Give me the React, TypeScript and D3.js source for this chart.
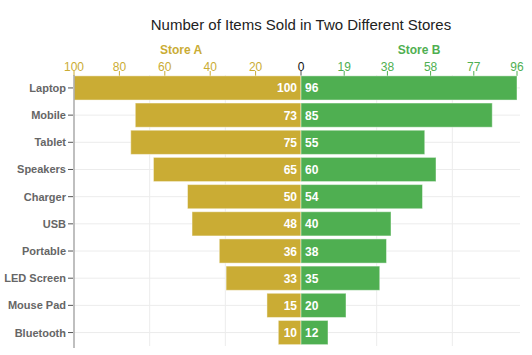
import React from "react";
import * as d3 from "d3";

const categories = ["Laptop", "Mobile", "Tablet", "Speakers", "Charger", "USB", "Portable", "LED Screen", "Mouse Pad", "Bluetooth"];
const storeA = [100, 73, 75, 65, 50, 48, 36, 33, 15, 10];
const storeB = [96, 85, 55, 60, 54, 40, 38, 35, 20, 12];
const seriesNames = ["Store A", "Store B"];
const title = "Number of Items Sold in Two Different Stores";

const W = 532, H = 355;
const GOLD = "#CAAC34";
const GREEN = "#4FAF51";
const FONT = "'Liberation Sans', Arial, sans-serif";

export default function App() {
  const x0 = 301;
  const maxA = d3.max(storeA)!;
  const maxB = d3.max(storeB)!;
  const xA = d3.scaleLinear().domain([0, maxA]).range([x0, 74]);
  const xB = d3.scaleLinear().domain([0, maxB]).range([x0, 517]);
  const y = d3.scaleBand<string>().domain(categories).range([74.5, 346]).paddingInner(0.11).paddingOuter(0.05);
  const ticksA = d3.range(0, 6).map((i) => (maxA * i) / 5);
  const ticksB = d3.range(0, 6).map((i) => (maxB * i) / 5);
  const gridX = [1, 2, 4, 5].map((i) => 74 + (i * (x0 - 74)) / 3);
  const tickY = 71;

  return (
    <svg width={W} height={H} style={{ position: "absolute", left: 0, top: 0 }} fontFamily={FONT}>
      <rect width={W} height={H} fill="#fff" />
      <text x={301} y={30} textAnchor="middle" fontSize={15} fill="#222">{title}</text>
      {/* grid */}
      {gridX.map((gx, i) => (
        <line key={"gx" + i} x1={gx} x2={gx} y1={75} y2={346} stroke="#ececec" />
      ))}
      {categories.map((c) => (
        <line key={"gy" + c} x1={74} x2={520} y1={y(c)! + y.bandwidth() / 2} y2={y(c)! + y.bandwidth() / 2} stroke="#ececec" />
      ))}
      {/* series titles */}
      <text x={181} y={54} textAnchor="middle" fontSize={12} fontWeight="bold" fill={GOLD}>{seriesNames[0]}</text>
      <text x={419} y={54} textAnchor="middle" fontSize={12} fontWeight="bold" fill={GREEN}>{seriesNames[1]}</text>
      {/* top axis ticks */}
      {ticksA.map((t, i) => (
        <g key={"ta" + i}>
          <line x1={xA(t)} x2={xA(t)} y1={tickY} y2={76} stroke={t === 0 ? "#888" : GOLD} />
          {t !== 0 && (
            <text x={xA(t)} y={71} textAnchor="middle" fontSize={12} fill={GOLD}>{d3.format(".0f")(t)}</text>
          )}
        </g>
      ))}
      {ticksB.map((t, i) => (
        <g key={"tb" + i}>
          <line x1={xB(t)} x2={xB(t)} y1={tickY} y2={76} stroke={t === 0 ? "#888" : GREEN} />
          {t !== 0 && (
            <text x={xB(t)} y={71} textAnchor="middle" fontSize={12} fill={GREEN}>{d3.format(".0f")(t)}</text>
          )}
        </g>
      ))}
      <text x={x0} y={71} textAnchor="middle" fontSize={12} fill="#111">0</text>
      {/* bars */}
      {categories.map((c, i) => (
        <g key={"b" + c}>
          <rect x={xA(storeA[i])} y={y(c)!} width={x0 - xA(storeA[i])} height={y.bandwidth()} fill={GOLD} stroke="#fff" strokeOpacity={0.45} />
          <rect x={x0} y={y(c)!} width={xB(storeB[i]) - x0} height={y.bandwidth()} fill={GREEN} stroke="#fff" strokeOpacity={0.45} />
          <text x={x0 - 4} y={y(c)! + y.bandwidth() / 2 + 4.5} textAnchor="end" fontSize={12} fontWeight="bold" fill="#fff">{storeA[i]}</text>
          <text x={x0 + 4} y={y(c)! + y.bandwidth() / 2 + 4.5} textAnchor="start" fontSize={12} fontWeight="bold" fill="#fff">{storeB[i]}</text>
        </g>
      ))}
      {/* left axis */}
      <line x1={74} x2={74} y1={75} y2={348} stroke="#aaa" strokeWidth={1.5} />
      {categories.map((c) => (
        <g key={"yl" + c}>
          <line x1={68} x2={73} y1={y(c)! + y.bandwidth() / 2} y2={y(c)! + y.bandwidth() / 2} stroke="#555" />
          <text x={66} y={y(c)! + y.bandwidth() / 2 + 4} textAnchor="end" fontSize={11} fontWeight="bold" fill="#666">{c}</text>
        </g>
      ))}
    </svg>
  );
}
